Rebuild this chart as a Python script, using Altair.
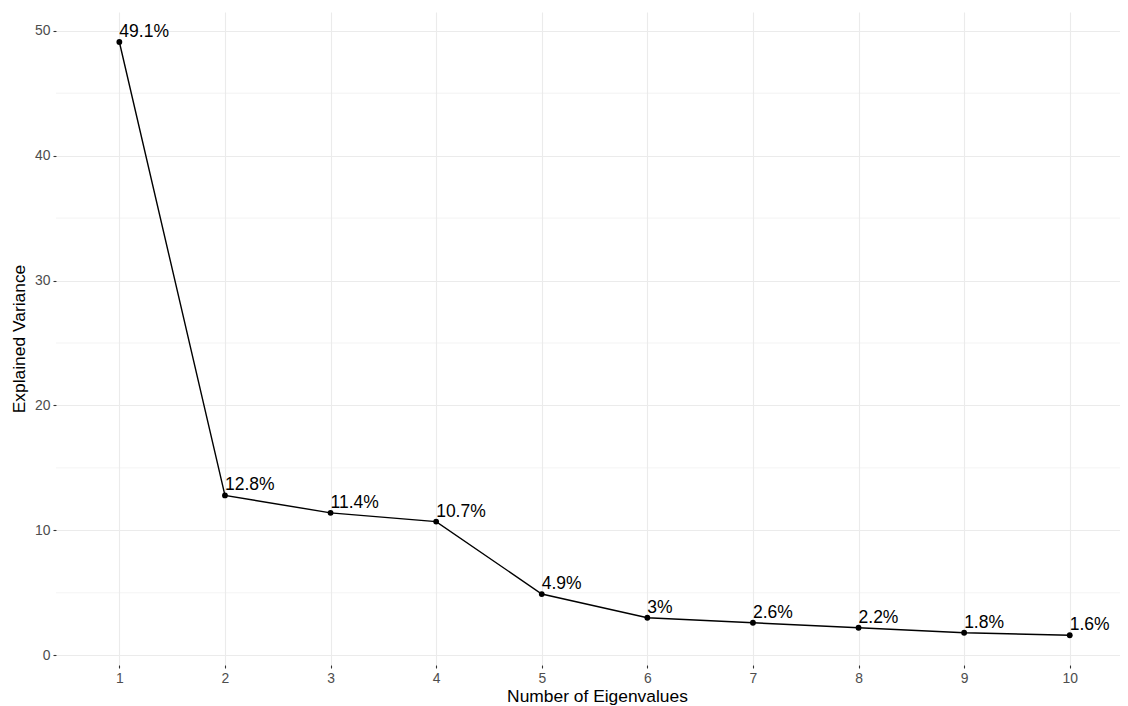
import altair as alt
import pandas as pd

eigen_num = [1, 2, 3, 4, 5, 6, 7, 8, 9, 10]
explained = [49.1, 12.8, 11.4, 10.7, 4.9, 3.0, 2.6, 2.2, 1.8, 1.6]
labels = ["49.1%", "12.8%", "11.4%", "10.7%", "4.9%", "3%", "2.6%", "2.2%", "1.8%", "1.6%"]
y_major = [0, 10, 20, 30, 40, 50]
y_minor = [5, 15, 25, 35, 45]

df = pd.DataFrame({"n": eigen_num, "v": explained, "lab": labels})
minor_df = pd.DataFrame({"g": y_minor})

FONT = "Liberation Sans"
xs = alt.Scale(domain=[0.4, 10.476], nice=False, zero=False)
ys = alt.Scale(domain=[-0.78, 51.5], nice=False, zero=False)

x_enc = alt.X("n:Q", scale=xs, title="Number of Eigenvalues",
              axis=alt.Axis(values=eigen_num, format="d", titlePadding=3,
                            titleX=541, titleAlign="center"))
y_enc = alt.Y("v:Q", scale=ys, title="Explained Variance",
              axis=alt.Axis(values=y_major, titlePadding=6))

minor = alt.Chart(minor_df).mark_rule(color="#EBEBEB", strokeWidth=0.6).encode(
    y=alt.Y("g:Q", scale=ys)
)

line = alt.Chart(df).mark_line(color="black", strokeWidth=1.4).encode(x=x_enc, y=y_enc)
pts = alt.Chart(df).mark_circle(color="black", opacity=1, size=34).encode(x=x_enc, y=y_enc)
txt = alt.Chart(df).mark_text(
    align="left", baseline="alphabetic", dx=0, dy=-5, fontSize=17.5, font=FONT, color="black"
).encode(x=x_enc, y=y_enc, text="lab:N")

chart = alt.layer(minor, line, pts, txt).properties(
    width=1064, height=653,
    autosize=alt.AutoSizeParams(type="none"),
    padding={"left": 48, "top": 4, "right": 0, "bottom": 41},
).configure_view(stroke=None).configure_axis(
    grid=True, gridColor="#EBEBEB", gridWidth=1.1,
    domain=False, ticks=True, tickColor="#333333", tickSize=3, tickWidth=1.1,
    labelColor="#4D4D4D", labelFont=FONT, labelFontSize=13.9, labelPadding=3,
    titleFont=FONT, titleFontSize=17.4, titleFontWeight="normal", titleColor="black",
)

chart.save("out.html", embed_options={"renderer": "svg", "actions": False})
